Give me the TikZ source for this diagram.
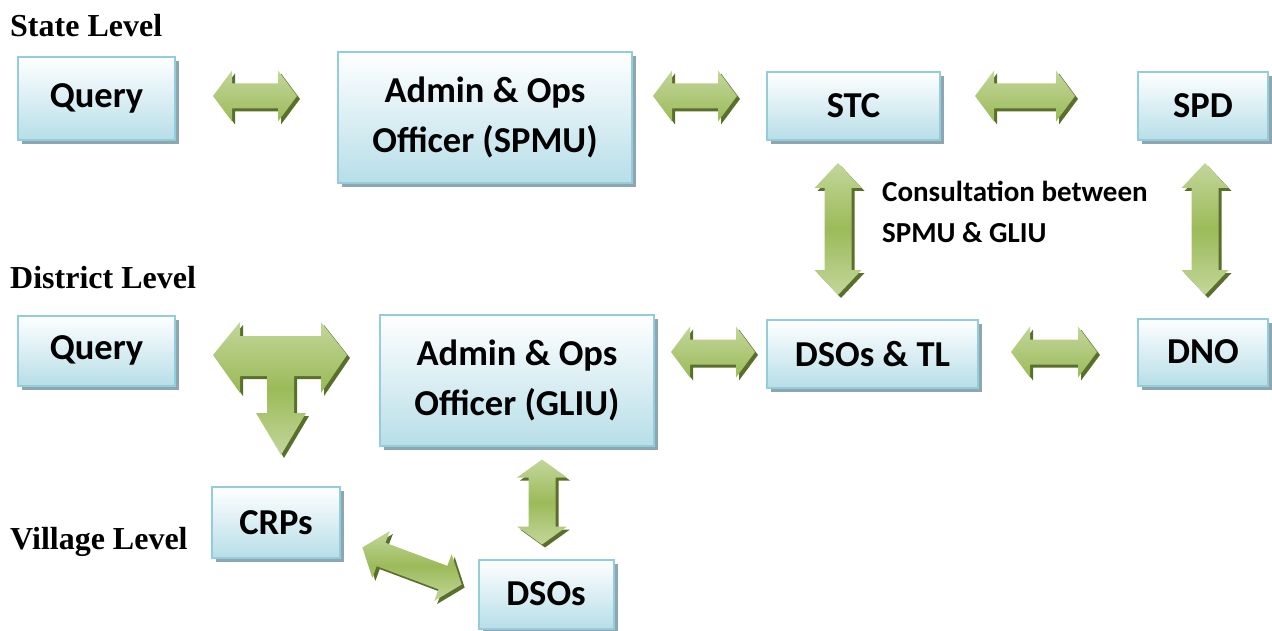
\documentclass[tikz,border=0pt]{standalone}
\usepackage{fontspec}
\setmainfont{Carlito}
\newfontfamily\headfont{Liberation Serif}
\usetikzlibrary{shadows,calc}
\definecolor{boxborder}{HTML}{93CDDD}
\definecolor{boxbottom}{HTML}{B7DEE8}
\definecolor{shadowgray}{HTML}{8EA6AF}
\definecolor{glight}{HTML}{C3D69B}
\definecolor{gmid}{HTML}{9BBB59}
\definecolor{gdark}{HTML}{5A6F2C}
\tikzset{
  box/.style={draw=boxborder, line width=2pt, top color=white, bottom color=boxbottom,
    drop shadow={shadow xshift=4pt, shadow yshift=-4pt, fill=shadowgray, opacity=1},
    align=center, inner sep=0pt,
    font=\fontsize{36.5}{50}\selectfont\bfseries},
  level/.style={anchor=base west, inner sep=0pt, font=\headfont\fontsize{32}{36}\selectfont\bfseries},
  note/.style={anchor=base west, inner sep=0pt, font=\fontsize{29}{41}\selectfont\bfseries},
  vshade/.style={top color=glight, bottom color=glight, middle color=gmid},
  lshade/.style={left color=glight, right color=glight, middle color=gmid},
  hshade/.style={top color=glight, bottom color=gmid},
}
% horizontal/rotated: #1 cx, #2 cy, #3 angle, #4 length, #5 shaft, #6 head width, #7 head length, #8 shading style
\newcommand\blockarrow[8]{%
  \begin{scope}[shift={(#1+3,#2+3)}, rotate=#3]
    \fill[gdark] (-#4/2,0) -- (-#4/2+#7,-#6/2) -- (-#4/2+#7,-#5/2) -- (#4/2-#7,-#5/2) -- (#4/2-#7,-#6/2) -- (#4/2,0)
      -- (#4/2-#7,#6/2) -- (#4/2-#7,#5/2) -- (-#4/2+#7,#5/2) -- (-#4/2+#7,#6/2) -- cycle;
  \end{scope}
  \begin{scope}[shift={(#1,#2)}, rotate=#3]
    \shade[#8] (-#4/2,0) -- (-#4/2+#7,-#6/2) -- (-#4/2+#7,-#5/2) -- (#4/2-#7,-#5/2) -- (#4/2-#7,-#6/2) -- (#4/2,0)
      -- (#4/2-#7,#6/2) -- (#4/2-#7,#5/2) -- (-#4/2+#7,#5/2) -- (-#4/2+#7,#6/2) -- cycle;
  \end{scope}}
% vertical: #1 cx, #2 cy, #3 length, #4 shaft, #5 head width, #6 head length
\newcommand\vblockarrow[6]{%
  \begin{scope}[shift={(#1+3,#2+3)}]
    \fill[gdark] (0,-#3/2) -- (-#5/2,-#3/2+#6) -- (-#4/2,-#3/2+#6) -- (-#4/2,#3/2-#6) -- (-#5/2,#3/2-#6) -- (0,#3/2)
      -- (#5/2,#3/2-#6) -- (#4/2,#3/2-#6) -- (#4/2,-#3/2+#6) -- (#5/2,-#3/2+#6) -- cycle;
  \end{scope}
  \begin{scope}[shift={(#1,#2)}]
    \shade[vshade] (0,-#3/2) -- (-#5/2,-#3/2+#6) -- (-#4/2,-#3/2+#6) -- (-#4/2,#3/2-#6) -- (-#5/2,#3/2-#6) -- (0,#3/2)
      -- (#5/2,#3/2-#6) -- (#4/2,#3/2-#6) -- (#4/2,-#3/2+#6) -- (#5/2,-#3/2+#6) -- cycle;
  \end{scope}}
\begin{document}
\begin{tikzpicture}[x=1pt, y=-1pt]
\useasboundingbox (0,0) rectangle (1272,631);

% level labels
\node[level] (lstate) at (10,37) {State Level};
\node[level] (ldist) at (10,288) {District Level};
\node[level] (lvill) at (10,549) {Village Level};

% boxes
\node[box, minimum width=157pt, minimum height=83pt] (q1) at (96.5,98.5) {Query};
\node[box, minimum width=294pt, minimum height=131pt] (spmu) at (485,117.5) {Admin \& Ops\\Officer (SPMU)};
\node[box, minimum width=173pt, minimum height=68pt] (stc) at (853.5,106) {STC};
\node[box, minimum width=130pt, minimum height=68pt] (spd) at (1203,106) {SPD};

\node[box, minimum width=157pt, minimum height=70pt] (q2) at (96.5,350.5) {Query};
\node[box, minimum width=274pt, minimum height=131pt] (gliu) at (517,380.5) {Admin \& Ops\\Officer (GLIU)};
\node[box, minimum width=211pt, minimum height=68pt] (dsotl) at (872.5,354) {DSOs \& TL};
\node[box, minimum width=130pt, minimum height=67pt] (dno) at (1203,352) {DNO};

\node[box, minimum width=128pt, minimum height=71pt] (crps) at (276,522.5) {CRPs};
\node[box, minimum width=135pt, minimum height=69pt] (dsos) at (546,594) {DSOs};

% note
\node[note] (note1) at (882,202) {Consultation between};
\node[note] (note2) at (882,243) {SPMU \& GLIU};

% horizontal block arrows
\blockarrow{255}{96}{0}{84}{25}{51}{19}{hshade}
\blockarrow{695}{96}{0}{84}{25}{51}{19}{hshade}
\blockarrow{1025}{96}{0}{100}{25}{51}{19}{hshade}
\blockarrow{713}{352}{0}{84}{25}{51}{19}{hshade}
\blockarrow{1054}{352}{0}{86}{25}{51}{19}{hshade}
% vertical block arrows
\vblockarrow{838}{229}{132}{27}{47}{25}
\vblockarrow{1205}{229}{132}{27}{47}{25}
\vblockarrow{542}{502}{85}{27}{50}{18}
% diagonal
\blockarrow{412}{566}{-20.5}{106}{25}{50}{20}{vshade}

% T arrow
\fill[gdark, shift={(3,3)}] (213,355) -- (240,322) -- (240,336) -- (321,336) -- (321,322) -- (347,355)
  -- (321,393) -- (321,376) -- (294,376) -- (294,413) -- (306,413) -- (281,455) -- (256,413)
  -- (267,413) -- (267,376) -- (240,376) -- (240,393) -- cycle;
\shade[vshade] (213,355) -- (240,322) -- (240,336) -- (321,336) -- (321,322) -- (347,355)
  -- (321,393) -- (321,376) -- (294,376) -- (294,413) -- (306,413) -- (281,455) -- (256,413)
  -- (267,413) -- (267,376) -- (240,376) -- (240,393) -- cycle;
\end{tikzpicture}
\end{document}
